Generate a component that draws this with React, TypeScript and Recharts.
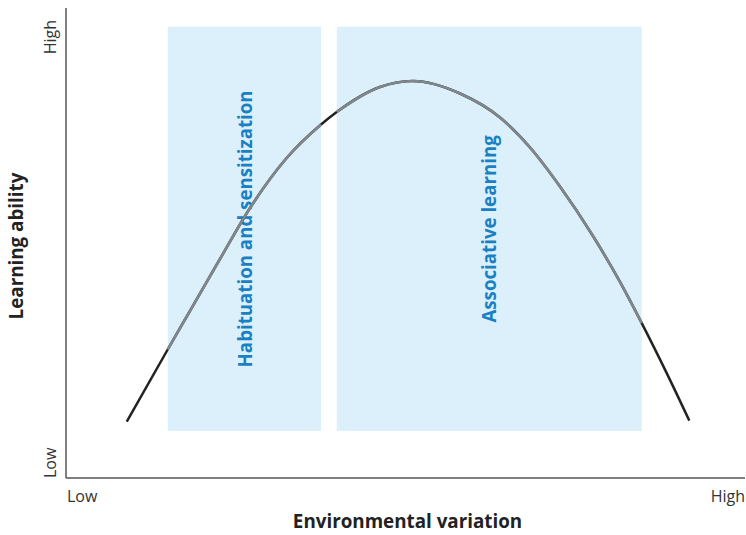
import { ComposedChart, Line, XAxis, YAxis, ReferenceArea } from 'recharts';

// environmental variation (x) and learning ability (y)
const variation = [8.94, 14.98, 17.78, 22.68, 27.1, 32.5, 37.56, 39.87, 46.24, 51.1, 58.03, 63.92, 68.34, 72.75, 77.66, 81.59, 84.79, 88.47, 91.8];
const ability = [11.98, 27.34, 34.36, 46.6, 57.45, 68.09, 75.21, 77.87, 83.19, 84.47, 81.81, 76.7, 70.32, 62.02, 51.38, 41.72, 32.96, 22.32, 12.21];

const zoneLabels = ['Habituation and sensitization', 'Associative learning'];
const zoneStart = [14.98, 39.87];
const zoneEnd = [37.56, 84.79];
const zoneLow = 10;
const zoneHigh = 96;

const tickText = ['Low', 'High'];

const data = variation.map((x, i) => {
  const row: any = { x, all: ability[i] };
  zoneStart.forEach((s, z) => {
    row['zone' + z] = x >= s && x <= zoneEnd[z] ? ability[i] : null;
  });
  return row;
});

const FONT = '"Open Sans", "Noto Sans", sans-serif';

const XTick = (props: any) => {
  const { x, y, payload } = props;
  const first = payload.value === 0;
  return (
    <text x={first ? x + 1 : x} y={y} dy={16} textAnchor={first ? 'start' : 'end'} fontSize={16} fill="#333" fontFamily={FONT}>
      {first ? tickText[0] : tickText[1]}
    </text>
  );
};

const YTick = (props: any) => {
  const { y, payload } = props;
  const low = payload.value === 0;
  const bx = 56;
  const by = low ? y : y + 12;
  return (
    <text x={bx} y={by} transform={`rotate(-90 ${bx} ${by})`} textAnchor={low ? 'start' : 'end'} fontSize={16} fill="#333" fontFamily={FONT}>
      {low ? tickText[0] : tickText[1]}
    </text>
  );
};

const zoneLabel = (text: string, shift: number) => (p: any) => {
  const vb = p.viewBox;
  const cx = vb.x + vb.width / 2;
  const cy = vb.y + vb.height / 2;
  return (
    <text x={cx} y={cy} dy={shift} transform={`rotate(-90 ${cx} ${cy})`} textAnchor="middle" fontSize={18.7} fontWeight={700} fill="#1a80c4" fontFamily={FONT}>
      {text}
    </text>
  );
};

export default function App() {
  return (
    <div style={{ position: 'absolute', left: 0, top: 0 }}>
      <ComposedChart width={746} height={535} data={data} margin={{ top: 8, right: 1, bottom: 0, left: 0 }}>
        {zoneLabels.map((t, i) => (
          <ReferenceArea
            key={t}
            x1={zoneStart[i]}
            x2={zoneEnd[i]}
            y1={zoneLow}
            y2={zoneHigh}
            fill="#dbf0fb"
            fillOpacity={1}
            stroke="none"
          />
        ))}
        <XAxis
          type="number"
          dataKey="x"
          domain={[0, 100]}
          ticks={[0, 100]}
          interval={0}
          tick={<XTick />}
          tickLine={false}
          axisLine={{ stroke: '#555', strokeWidth: 1.5 }}
          height={57}
          label={(p: any) => {
            const vb = p.viewBox;
            return (
              <text x={vb.x + vb.width / 2 + 2} y={528} textAnchor="middle" fontSize={18.8} fontWeight={700} fill="#222" fontFamily={FONT}>
                Environmental variation
              </text>
            );
          }}
        />
        <YAxis
          type="number"
          domain={[0, 100]}
          ticks={[0, 100]}
          interval={0}
          tick={<YTick />}
          tickLine={false}
          axisLine={{ stroke: '#555', strokeWidth: 1.5 }}
          width={66}
          label={() => (
            <text x={23} y={246} transform="rotate(-90 23 246)" textAnchor="middle" fontSize={18.8} fontWeight={700} fill="#222" fontFamily={FONT}>
              Learning ability
            </text>
          )}
        />
        <Line dataKey="all" type="monotone" stroke="#222" strokeWidth={2.5} dot={false} isAnimationActive={false} />
        {zoneLabels.map((t, i) => (
          <Line
            key={'line' + t}
            dataKey={'zone' + i}
            type="monotone"
            stroke="#7f878c"
            strokeWidth={2.7}
            dot={false}
            isAnimationActive={false}
            connectNulls={false}
          />
        ))}
        {zoneLabels.map((t, i) => (
          <ReferenceArea
            key={'lbl' + t}
            x1={zoneStart[i]}
            x2={zoneEnd[i]}
            y1={zoneLow}
            y2={zoneHigh}
            fill="none"
            fillOpacity={0}
            stroke="none"
            label={zoneLabel(t, i === 0 ? 8 : 7)}
          />
        ))}
      </ComposedChart>
    </div>
  );
}
